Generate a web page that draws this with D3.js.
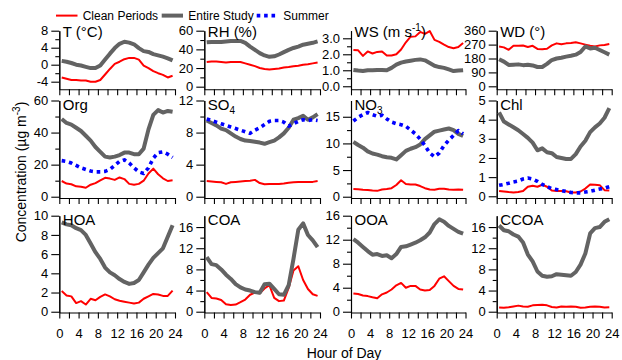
<!DOCTYPE html>
<html>
<head>
<meta charset="UTF-8">
<title>Diurnal profiles</title>
<script src="https://d3js.org/d3.v7.min.js"></script>
<style>
  body { margin: 0; background: #fff; }
  svg text { font-family: Arial, "Liberation Sans", sans-serif; fill: #000; }
</style>
</head>
<body>
<div id="chart"></div>
<script>
// hour of day (bin centres)
const hours = [0.5, 1.5, 2.5, 3.5, 4.5, 5.5, 6.5, 7.5, 8.5, 9.5, 10.5, 11.5,
               12.5, 13.5, 14.5, 15.5, 16.5, 17.5, 18.5, 19.5, 20.5, 21.5, 22.5, 23.5];
const hourTicks = [0, 2, 4, 6, 8, 10, 12, 14, 16, 18, 20, 22, 24];
const hourLabels = [0, 4, 8, 12, 16, 20, 24];

const seriesNames = ["Clean Periods", "Entire Study", "Summer"];

// meteorology
const tClean   = [-3.0,-3.3,-3.6,-3.6,-3.7,-3.7,-4.0,-4.0,-3.6,-2.3,-1.0,0.2,0.7,1.3,1.6,1.6,1.2,-0.2,-0.8,-1.5,-2.0,-2.4,-3.0,-2.6];
const tEntire  = [0.9,0.7,0.4,0.0,-0.2,-0.5,-0.8,-0.8,-0.2,1.2,2.6,3.9,4.9,5.4,5.2,4.8,3.9,3.2,3.0,2.5,2.2,1.9,1.5,1.0];
const rhClean  = [26.5,27,27,26.5,26,26.5,26.5,26.5,25,23.5,22,20,19,18.5,19,19.5,20.5,21,22,22.5,23.5,24,25,26];
const rhEntire = [47.5,48,47.8,48,48.5,49,49,49,47,43,39.5,36,33.5,32,32.5,34.5,37,39.5,41.5,43,45,46,47,48.5];
const wsClean  = [2.27,2.25,1.9,2.18,2.05,2.15,2.18,1.92,1.92,2.0,2.3,2.75,3.1,3.12,3.4,3.28,3.45,2.9,2.78,2.6,2.45,2.38,2.45,2.7];
const wsEntire = [1.02,0.98,0.95,1.0,1.0,1.02,1.02,1.0,1.15,1.35,1.48,1.55,1.6,1.65,1.68,1.62,1.45,1.28,1.2,1.15,1.05,0.95,0.98,1.0];
const wdClean  = [257,252,236,262,262,264,255,262,242,240,243,265,278,272,278,280,285,278,270,262,258,265,268,274];
const wdEntire = [175,160,138,140,142,137,140,135,125,125,145,170,180,185,192,198,205,222,258,245,250,235,220,205];

// aerosol species (µg m-3)
const orgClean   = [9.8,8.2,7.8,6.5,6.2,5.6,7.5,8.5,10.2,11.8,11.3,10.5,12,11,8,7.5,8,10,14.5,17.5,14,11.5,9.8,10.2];
const orgEntire  = [48.5,46,45,43,41,38,35,31,28,25,24.5,25,26,27.5,27.5,26.5,26.5,30,42,51,54,52.5,53.5,53];
const orgSummer  = [22.5,22,21,19.5,18,17,16,15.5,15.5,15.8,17,19.5,22,23,21,18,15.5,14.5,18,24,27.5,28,26.5,24.5];
const so4Clean   = [1.95,1.9,1.85,1.8,1.6,1.8,1.85,1.9,1.95,2.0,2.1,1.7,1.55,1.6,1.6,1.6,1.65,1.75,1.8,1.85,1.85,1.85,1.85,1.95];
const so4Entire  = [9.5,9.2,8.9,8.5,8.3,7.9,7.5,7.2,7.0,6.95,6.85,6.75,6.6,6.8,7.0,7.4,7.9,8.6,9.6,9.8,10.1,9.6,9.9,10.3];
const so4Summer  = [9.7,9.5,9.3,9.1,8.9,8.7,8.5,8.3,8.1,7.9,8.3,8.6,9.0,9.4,9.5,9.5,9.3,8.8,9.1,9.4,9.6,9.5,9.6,9.5];
const no3Clean   = [1.45,1.4,1.3,1.25,1.15,1.1,1.35,1.45,1.6,2.2,3.1,2.4,2.3,2.3,2.0,1.6,1.35,1.3,1.5,1.5,1.35,1.3,1.35,1.3];
const no3Entire  = [10.3,9.7,9.2,8.5,8.1,7.9,7.6,7.4,7.3,7.0,7.8,8.6,9.0,9.3,9.8,10.8,11.5,12.2,12.4,12.6,12.8,12.5,11.8,11.4];
const no3Summer  = [14.2,14.9,15.4,15.8,15.4,15.1,15.3,14.6,14.0,13.7,13.5,13.2,12.5,11.8,10.8,9.6,8.2,7.5,8.2,9.6,10.6,11.5,12.4,11.8];
const chlClean   = [0.28,0.25,0.22,0.2,0.22,0.27,0.5,0.55,0.5,0.6,0.5,0.3,0.27,0.28,0.26,0.2,0.2,0.25,0.4,0.62,0.6,0.58,0.32,0.3];
const chlEntire  = [4.38,3.9,3.75,3.6,3.45,3.25,3.05,2.8,2.4,2.5,2.3,2.25,2.05,2.0,1.95,1.95,2.2,2.6,2.9,3.35,3.6,3.8,4.1,4.6];
const chlSummer  = [0.57,0.62,0.68,0.75,0.8,0.9,0.95,0.9,0.78,0.62,0.5,0.4,0.35,0.3,0.25,0.2,0.18,0.18,0.22,0.26,0.32,0.38,0.42,0.5];

// PMF factors (µg m-3)
const hoaClean   = [2.15,1.7,1.6,0.9,1.1,0.75,1.35,1.2,1.55,1.8,1.6,1.3,1.15,1.05,0.95,0.85,0.95,1.35,1.6,1.85,1.8,1.65,1.65,2.2];
const hoaEntire  = [9.3,9.1,9.0,8.7,8.5,8.0,7.1,6.2,5.5,4.6,4.1,3.8,3.4,3.1,2.9,3.0,3.3,4.1,4.9,5.6,6.1,6.6,7.8,9.0];
const coaClean   = [3.7,2.6,2.5,2.2,1.4,1.25,1.35,1.8,2.3,3.2,3.6,3.5,4.4,5.0,2.6,2.0,2.1,4.5,7.8,8.6,6.0,4.3,3.3,3.0];
const coaEntire  = [10.3,9.0,8.8,8.0,7.0,6.2,5.2,4.6,4.2,4.0,3.7,3.6,5.2,5.3,4.3,3.3,3.2,5.0,10,15.5,16.7,14.5,13.5,12.2];
const ooaClean   = [3.05,2.95,2.7,2.6,2.4,2.25,2.9,3.2,3.7,4.4,4.8,4.0,4.3,4.3,3.7,3.55,3.6,4.3,5.5,5.9,5.1,4.3,3.8,3.7];
const ooaEntire  = [12.1,11.5,10.8,10.1,9.5,9.6,9.3,9.4,8.9,9.6,10.8,10.9,11.2,11.5,11.9,12.4,13.2,14.6,15.4,15.0,14.3,13.8,13.3,13.0];
const ccoaClean  = [0.8,0.75,0.85,1.0,1.15,1.0,0.95,1.2,1.25,1.3,1.2,0.9,0.8,1.0,0.95,1.0,0.95,0.75,0.8,0.95,1.0,0.95,0.8,0.85];
const ccoaEntire = [16.3,15.4,15.2,14.6,14.2,13.1,10.8,9.5,7.6,6.8,6.6,6.7,7.1,7.0,6.9,6.8,7.5,8.9,11.0,14.8,15.8,16.0,17.0,17.5];

// y tick values
const tTicks = [-4, 0, 4, 8],        tMinor = [-2, 2, 6];
const rhTicks = [0, 20, 40, 60],     rhMinor = [10, 30, 50];
const wsTicks = [0, 1, 2, 3],        wsMinor = [0.5, 1.5, 2.5];
const wdTicks = [0, 90, 180, 270, 360];
const orgTicks = [0, 20, 40, 60],    orgMinor = [10, 30, 50];
const so4Ticks = [0, 4, 8, 12],      so4Minor = [2, 6, 10];
const no3Ticks = [0, 5, 10, 15],     no3Minor = [2.5, 7.5, 12.5];
const chlTicks = [0, 1, 2, 3, 4, 5];
const hoaTicks = [0, 2, 4, 6, 8, 10];
const factorTicks = [0, 4, 8, 12, 16], factorMinor = [2, 6, 10, 14];

const W = 622, H = 360;
const colors = ["#ff0000", "#636363", "#0000ff"];
const widths = [2, 4, 3.6];

// layout
const cols = [[59.3, 175], [204.3, 320], [351, 465.5], [496.7, 611.7]];
const rows = [[89.3, 30.7], [198, 100.5], [312.5, 215.7]];

const panels = [
  { title: [["T (°C)"]], c: 0, r: 0, dom: [-5.79, 8], ticks: tTicks, minor: tMinor, data: [tClean, tEntire] },
  { title: [["RH (%)"]], c: 1, r: 0, dom: [-2.8, 60], ticks: rhTicks, minor: rhMinor, data: [rhClean, rhEntire] },
  { title: [["WS (m s"], ["-1", "sup"], [")"]], c: 2, r: 0, dom: [-0.19, 3.475], ticks: wsTicks, minor: wsMinor, fmt: d3.format(".1f"), data: [wsClean, wsEntire] },
  { title: [["WD (°)"]], c: 3, r: 0, dom: [-19.4, 360], ticks: wdTicks, minor: [], data: [wdClean, wdEntire] },
  { title: [["Org"]], c: 0, r: 1, dom: [-0.8, 60], ticks: orgTicks, minor: orgMinor, data: [orgClean, orgEntire, orgSummer] },
  { title: [["SO"], ["4", "sub"]], c: 1, r: 1, dom: [-0.16, 12], ticks: so4Ticks, minor: so4Minor, data: [so4Clean, so4Entire, so4Summer] },
  { title: [["NO"], ["3", "sub"]], c: 2, r: 1, dom: [-0.24, 18.05], ticks: no3Ticks, minor: no3Minor, data: [no3Clean, no3Entire, no3Summer] },
  { title: [["Chl"]], c: 3, r: 1, dom: [-0.09, 5], ticks: chlTicks, minor: [], data: [chlClean, chlEntire, chlSummer] },
  { title: [["HOA"]], c: 0, r: 2, dom: [-0.08, 10], ticks: hoaTicks, minor: [], data: [hoaClean, hoaEntire] },
  { title: [["COA"]], c: 1, r: 2, dom: [-0.15, 18.15], ticks: factorTicks, minor: factorMinor, data: [coaClean, coaEntire] },
  { title: [["OOA"]], c: 2, r: 2, dom: [-0.13, 16], ticks: factorTicks, minor: factorMinor, data: [ooaClean, ooaEntire] },
  { title: [["CCOA"]], c: 3, r: 2, dom: [-0.15, 18.15], ticks: factorTicks, minor: factorMinor, data: [ccoaClean, ccoaEntire] }
];

const svg = d3.select("#chart").append("svg")
  .attr("width", W).attr("height", H);

panels.forEach(p => {
  const x = d3.scaleLinear().domain([0, 24]).range(cols[p.c]);
  const y = d3.scaleLinear().domain(p.dom).range(rows[p.r]);
  const g = svg.append("g");

  // x axis
  const xa = g.append("g")
    .attr("transform", "translate(0," + rows[p.r][0] + ")")
    .call(d3.axisBottom(x).tickValues(hourTicks).tickSize(6).tickSizeOuter(0).tickPadding(10)
      .tickFormat(d => (p.r === 2 && hourLabels.includes(d)) ? d : ""));
  xa.selectAll("text").style("font-size", "13px");

  // y axis, minor then major
  g.append("g")
    .attr("transform", "translate(" + cols[p.c][0] + ",0)")
    .call(d3.axisLeft(y).tickValues(p.minor).tickSize(4).tickSizeOuter(0).tickFormat(""));
  const ya = g.append("g")
    .attr("transform", "translate(" + cols[p.c][0] + ",0)")
    .call(d3.axisLeft(y).tickValues(p.ticks).tickSize(8).tickSizeOuter(0).tickPadding(3)
      .tickFormat(p.fmt || (d => d)));
  ya.selectAll("text").style("font-size", "13px");

  g.selectAll(".domain, .tick line").attr("stroke", "#000").attr("stroke-width", 1.1);

  // lines
  const line = d3.line().x((d, i) => x(hours[i])).y(d => y(d));
  p.data.forEach((s, k) => {
    const path = g.append("path")
      .datum(s)
      .attr("d", line)
      .attr("fill", "none")
      .attr("stroke", colors[k])
      .attr("stroke-width", widths[k])
      .attr("stroke-linejoin", "round");
    if (k === 2) path.attr("stroke-dasharray", "3.6,3.8");
  });

  // panel title
  const t = g.append("text")
    .attr("x", cols[p.c][0] + 3.5)
    .attr("y", rows[p.r][1] + (p.r === 0 ? 6.3 : 9.5))
    .style("font-size", "15px");
  p.title.forEach(part => {
    const sp = t.append("tspan").text(part[0]);
    if (part[1] === "sub") sp.attr("dy", 4).style("font-size", "10px");
    if (part[1] === "sup") sp.attr("dy", -6).style("font-size", "10px");
    if (!part[1] && part !== p.title[0]) sp.attr("dy", 6);
  });
});

// legend
const legX = [[56, 77.5], [161.7, 183], [256.7, 278.5]];
const legTextX = [82.7, 188.3, 283.3];
seriesNames.forEach((n, k) => {
  const l = svg.append("line")
    .attr("x1", legX[k][0]).attr("x2", legX[k][1])
    .attr("y1", 15.6).attr("y2", 15.6)
    .attr("stroke", colors[k]).attr("stroke-width", widths[k]);
  if (k === 2) l.attr("stroke-dasharray", "3.6,3.8");
  svg.append("text").attr("x", legTextX[k]).attr("y", 20.2)
    .style("font-size", "12px").text(n);
});

// axis titles
const yl = svg.append("text")
  .attr("transform", "translate(26,172) rotate(-90)")
  .attr("text-anchor", "middle")
  .style("font-size", "14px");
yl.append("tspan").text("Concentration (µg m");
yl.append("tspan").attr("dy", -6).style("font-size", "10px").text("-3");
yl.append("tspan").attr("dy", 6).text(")");

svg.append("text")
  .attr("x", 344).attr("y", 357.5)
  .attr("text-anchor", "middle")
  .style("font-size", "14px")
  .text("Hour of Day");
</script>
</body>
</html>
